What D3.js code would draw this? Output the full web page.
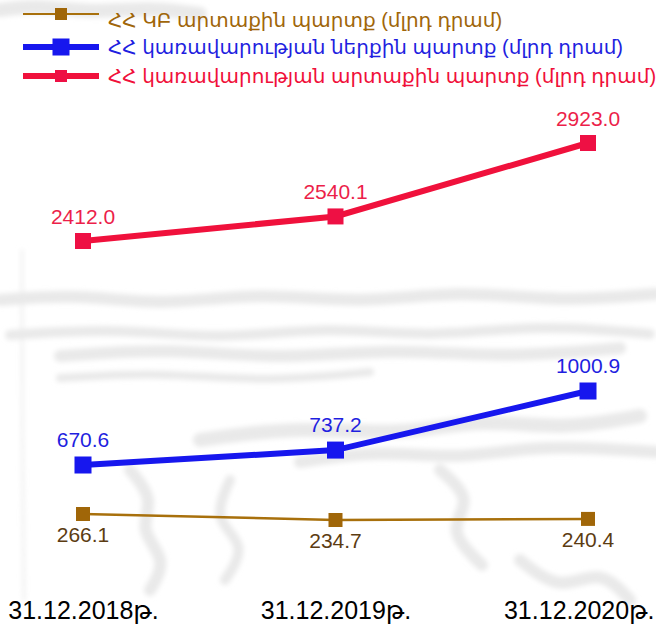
<!DOCTYPE html>
<html>
<head>
<meta charset="utf-8">
<script src="https://cdn.jsdelivr.net/npm/d3@7"></script>
<style>
  body { margin: 0; background: #fff; }
  svg { display: block; font-family: "Liberation Sans", Arial, "DejaVu Sans", sans-serif; }
</style>
</head>
<body>
<div id="chart"></div>
<script>
// dates on the x axis
var categories = ["31.12.2018թ.", "31.12.2019թ.", "31.12.2020թ."];

// series, mlrd AMD
var cbExternal = [266.1, 234.7, 240.4];
var govDomestic = [670.6, 737.2, 1000.9];
var govExternal = [2412.0, 2540.1, 2923.0];

var seriesNames = [
  "ՀՀ ԿԲ արտաքին պարտք (մլրդ դրամ)",
  "ՀՀ կառավարության ներքին պարտք (մլրդ դրամ)",
  "ՀՀ կառավարության արտաքին պարտք (մլրդ դրամ)"
];

var W = 656, H = 627;

var svg = d3.select("#chart").append("svg")
  .attr("width", W)
  .attr("height", H);

// faint sketch in the background (the original has a grey drawing behind the chart)
var blur = svg.append("defs").append("filter").attr("id", "soft");
blur.append("feGaussianBlur").attr("stdDeviation", 2.5);

var bg = svg.append("g")
  .attr("fill", "none")
  .attr("stroke", "#e9e9e9")
  .attr("stroke-linecap", "round")
  .attr("filter", "url(#soft)");
var wave = d3.line().curve(d3.curveBasis);
var strokes = [
  { w: 12, p: [[0,300],[80,294],[160,306],[260,292],[360,304],[460,290],[560,302],[656,294]] },
  { w: 10, p: [[10,335],[120,328],[220,340],[330,326],[430,338],[540,324],[650,334]] },
  { w: 12, p: [[60,356],[170,348],[280,360],[390,348],[500,358],[620,348]] },
  { w: 8, p: [[60,378],[160,372],[260,382],[370,372]] },
  { w: 14, p: [[200,440],[300,426],[400,436],[480,418],[560,430],[640,416]] },
  { w: 12, p: [[300,462],[380,450],[460,460],[540,444],[656,452]] },
  { w: 12, p: [[130,470],[155,500],[138,530],[168,560],[150,590]] },
  { w: 10, p: [[230,480],[212,520],[248,545],[225,580]] },
  { w: 12, p: [[440,470],[474,500],[446,530],[482,565]] },
  { w: 12, p: [[520,560],[560,592],[600,568],[630,600]] },
  { w: 14, p: [[0,10],[40,5],[90,13],[150,7],[200,14]] },
  { w: 2, p: [[22,250],[22,420],[24,600]] }
];
strokes.forEach(function(s){
  bg.append("path").attr("d", wave(s.p)).attr("stroke-width", s.w);
});

var x = d3.scalePoint().domain(categories).range([83, 588]);

// each series sits on its own hidden axis (like the secondary axes in the original)
var series = [
  { name: seriesNames[0], values: cbExternal, line: "#a8700c", mark: "#a06608", label: "#5c3c12",
    width: 2.5, size: 14, dy: 28, y: d3.scaleLinear().domain([234.7, 266.1]).range([520, 514]) },
  { name: seriesNames[1], values: govDomestic, line: "#1717ee", mark: "#1717ee", label: "#1f1fe0",
    width: 6, size: 17, dy: -18, y: d3.scaleLinear().domain([670.6, 1000.9]).range([465, 391]) },
  { name: seriesNames[2], values: govExternal, line: "#f0113c", mark: "#ee1044", label: "#ec1f4a",
    width: 6, size: 16, dy: -17, y: d3.scaleLinear().domain([2412.0, 2923.0]).range([241, 143]) }
];

series.forEach(function(s){
  var pts = s.values.map(function(v, i){ return { cat: categories[i], v: v }; });
  var line = d3.line()
    .x(function(d){ return x(d.cat); })
    .y(function(d){ return s.y(d.v); });

  svg.append("path")
    .datum(pts)
    .attr("d", line)
    .attr("fill", "none")
    .attr("stroke", s.line)
    .attr("stroke-width", s.width);

  svg.selectAll(null)
    .data(pts)
    .enter().append("rect")
    .attr("x", function(d){ return x(d.cat) - s.size / 2; })
    .attr("y", function(d){ return s.y(d.v) - s.size / 2; })
    .attr("width", s.size)
    .attr("height", s.size)
    .attr("fill", s.mark);

  svg.selectAll(null)
    .data(pts)
    .enter().append("text")
    .attr("x", function(d){ return x(d.cat); })
    .attr("y", function(d){ return s.y(d.v) + s.dy; })
    .attr("text-anchor", "middle")
    .attr("font-size", 21)
    .attr("fill", s.label)
    .text(function(d){ return d.v.toFixed(1); });
});

// x axis, only the labels are visible
var xAxis = svg.append("g")
  .attr("transform", "translate(0,596)")
  .call(d3.axisBottom(x).tickSize(0).tickPadding(0));
xAxis.select(".domain").remove();
xAxis.selectAll("text")
  .attr("font-size", 25)
  .attr("font-family", "Liberation Sans, Arial, DejaVu Sans, sans-serif")
  .attr("fill", "#000")
  .attr("dy", "0.9em");
// last label would run past the right edge, pin it there
xAxis.selectAll(".tick").filter(function(d, i){ return i === categories.length - 1; })
  .select("text")
  .attr("text-anchor", "end")
  .attr("x", W - 2 - x(categories[categories.length - 1]));

// legend
var legend = svg.append("g");
var legendY = [14, 47, 76];
var legendMark = [12, 17, 12];
series.forEach(function(s, i){
  var g = legend.append("g").attr("transform", "translate(0," + legendY[i] + ")");
  g.append("line")
    .attr("x1", 23).attr("x2", 99)
    .attr("stroke", s.line)
    .attr("stroke-width", i === 0 ? 2 : 6);
  g.append("rect")
    .attr("x", 61 - legendMark[i] / 2).attr("y", -legendMark[i] / 2)
    .attr("width", legendMark[i]).attr("height", legendMark[i])
    .attr("fill", s.mark);
  g.append("text")
    .attr("x", 108)
    .attr("y", i === 0 ? 13 : 7)
    .attr("font-size", 20)
    .attr("fill", i === 0 ? "#a0660a" : (i === 1 ? "#1f1fe0" : "#f0103a"))
    .text(s.name);
});
</script>
</body>
</html>
